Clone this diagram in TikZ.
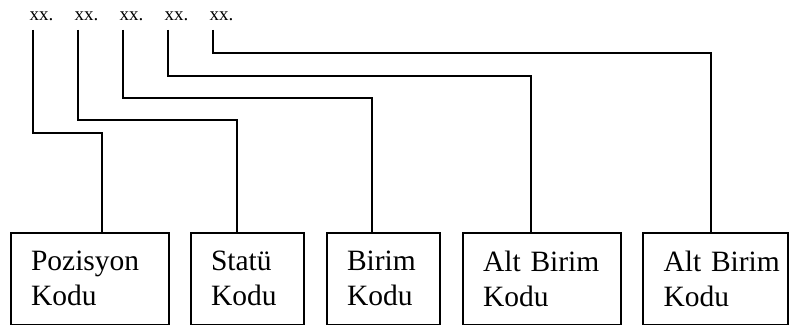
\documentclass[tikz,border=0pt]{standalone}
\usepackage{fontspec}
\setmainfont{Liberation Serif}
\begin{document}
\begin{tikzpicture}[x=1pt, y=-1pt,
  wire/.style={line width=1.1pt, line join=miter},
  codepart/.style={anchor=base west, inner sep=0pt, font=\fontsize{19}{20}\selectfont},
  codebox/.style={draw, line width=1.1pt, minimum height=91.5pt, inner xsep=20pt,
    align=left, font=\fontsize{29.5}{35}\selectfont}]
\useasboundingbox (0,0) rectangle (789,326);

% the five parts of the code
\foreach \i in {1,...,5}
  \node[codepart] (g\i) at ({29.5+45*(\i-1)},20.5) {xx.};

% the boxes naming each part
\node[codebox, text width=118pt] (b1) at (90,278.75)    {Pozisyon\\Kodu};
\node[codebox, text width=73pt]  (b2) at (247.5,278.75) {Statü\\Kodu};
\node[codebox, text width=73pt]  (b3) at (383.5,278.75) {Birim\\Kodu};
\node[codebox, text width=118pt] (b4) at (542,278.75)   {Alt~Birim\\Kodu};
\node[codebox, text width=104pt, inner xsep=20.5pt] (b5) at (715.5,278.75) {Alt~Birim\\Kodu};

% connectors from each part down to its box
\draw[wire] ([shift={(3.5,9.5)}]g1.base west) -- ++(0,103) -| ([xshift=12pt]b1.north);
\draw[wire] ([shift={(3.5,9.5)}]g2.base west) -- ++(0,90)  -| ([xshift=-10.5pt]b2.north);
\draw[wire] ([shift={(3.5,9.5)}]g3.base west) -- ++(0,68)  -| ([xshift=-11.5pt]b3.north);
\draw[wire] ([shift={(3.5,9.5)}]g4.base west) -- ++(0,46)  -| ([xshift=-11pt]b4.north);
\draw[wire] ([shift={(3.5,9.5)}]g5.base west) -- ++(0,23)  -| ([xshift=-4.5pt]b5.north);
\end{tikzpicture}
\end{document}
